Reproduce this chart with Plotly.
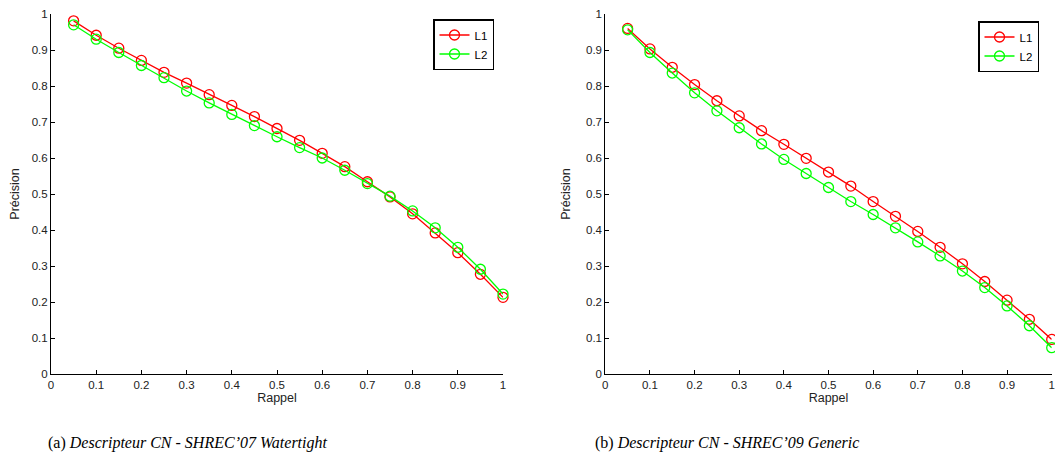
import plotly.graph_objects as go

# ---------------- data ----------------
recall = [0.05, 0.10, 0.15, 0.20, 0.25, 0.30, 0.35, 0.40, 0.45, 0.50,
          0.55, 0.60, 0.65, 0.70, 0.75, 0.80, 0.85, 0.90, 0.95, 1.00]

# (a) SHREC'07 Watertight
a_L1 = [0.981, 0.941, 0.905, 0.871, 0.838, 0.808, 0.776, 0.746, 0.715, 0.682,
        0.649, 0.613, 0.576, 0.534, 0.492, 0.445, 0.392, 0.337, 0.277, 0.213]
a_L2 = [0.970, 0.930, 0.893, 0.857, 0.823, 0.786, 0.753, 0.721, 0.690, 0.659,
        0.629, 0.600, 0.566, 0.529, 0.494, 0.453, 0.406, 0.352, 0.291, 0.222]

# (b) SHREC'09 Generic
b_L1 = [0.960, 0.903, 0.852, 0.804, 0.759, 0.717, 0.676, 0.638, 0.599, 0.561,
        0.522, 0.479, 0.438, 0.396, 0.352, 0.306, 0.257, 0.205, 0.152, 0.096]
b_L2 = [0.956, 0.893, 0.836, 0.781, 0.731, 0.684, 0.639, 0.596, 0.557, 0.518,
        0.479, 0.443, 0.406, 0.367, 0.328, 0.286, 0.240, 0.189, 0.134, 0.073]

series_names = ["L1", "L2"]
series_colors = ["#ff0000", "#00ff00"]

tick_vals = [0, 0.1, 0.2, 0.3, 0.4, 0.5, 0.6, 0.7, 0.8, 0.9, 1]
tick_text = ["0", "0.1", "0.2", "0.3", "0.4", "0.5", "0.6", "0.7", "0.8", "0.9", "1"]

captions = ["(a) <i>Descripteur CN - SHREC’07 Watertight</i>",
            "(b) <i>Descripteur CN - SHREC’09 Generic</i>"]

# ---------------- figure ----------------
# page body has an 8px default margin -> figure drawn at offset (8, 8)
OFF = 8
W, H = 1063 - OFF, 466 - OFF
fig = go.Figure()

panels = [
    dict(data=[a_L1, a_L2], xa="x", ya="y", legend="legend"),
    dict(data=[b_L1, b_L2], xa="x2", ya="y2", legend="legend2"),
]

for p in panels:
    for vals, name, col in zip(p["data"], series_names, series_colors):
        fig.add_trace(go.Scatter(
            x=recall, y=vals, name=name, mode="lines+markers",
            xaxis=p["xa"], yaxis=p["ya"], legend=p["legend"],
            line=dict(color=col, width=1.3),
            marker=dict(symbol="circle-open", size=10, color=col,
                        line=dict(width=1.3, color=col)),
            cliponaxis=False,
        ))

font_ticks = dict(family="Liberation Sans, Arial, sans-serif", size=11.5, color="#222222")
font_title = dict(family="Liberation Sans, Arial, sans-serif", size=12.5, color="#222222")

def axis_common():
    return dict(
        range=[0, 1], tickvals=tick_vals, ticktext=tick_text,
        showgrid=False, zeroline=False, showline=True, linecolor="black",
        linewidth=1, mirror=False, ticks="inside", ticklen=4, tickcolor="black",
        tickfont=font_ticks, fixedrange=True, automargin=False,
    )

def px_x(v):
    return (v - OFF) / W

def px_y(v):
    return 1 - (v - OFF) / H

ydom = [px_y(374), px_y(14)]

legend_style = dict(xanchor="left", yanchor="top",
                    bordercolor="black", borderwidth=1.5, bgcolor="white",
                    font=dict(family="Liberation Sans, Arial, sans-serif", size=11.5, color="black"),
                    tracegroupgap=0, itemwidth=30)

fig.update_layout(
    width=W, height=H,
    margin=dict(l=0, r=0, t=0, b=0, autoexpand=False),
    paper_bgcolor="white", plot_bgcolor="white",
    xaxis=dict(domain=[px_x(51), px_x(503)], anchor="y",
               title=dict(text="Rappel", font=font_title, standoff=1), **axis_common()),
    yaxis=dict(domain=ydom, anchor="x",
               title=dict(text="Précision", font=font_title, standoff=12), **axis_common()),
    xaxis2=dict(domain=[px_x(605.3), px_x(1051.7)], anchor="y2",
                title=dict(text="Rappel", font=font_title, standoff=1), **axis_common()),
    yaxis2=dict(domain=ydom, anchor="x2",
                title=dict(text="Précision", font=font_title, standoff=12), **axis_common()),
    legend=dict(x=px_x(433), y=px_y(19), **legend_style),
    legend2=dict(x=px_x(978), y=px_y(21), **legend_style),
    showlegend=True,
)

cap_font = dict(family="Liberation Serif, DejaVu Serif, serif", size=16, color="black")
fig.add_annotation(text=captions[0], x=px_x(187), y=px_y(443), xref="paper", yref="paper",
                   showarrow=False, font=cap_font, xanchor="center", yanchor="middle")
fig.add_annotation(text=captions[1], x=px_x(727), y=px_y(443), xref="paper", yref="paper",
                   showarrow=False, font=cap_font, xanchor="center", yanchor="middle")

fig.write_html("out.html")
